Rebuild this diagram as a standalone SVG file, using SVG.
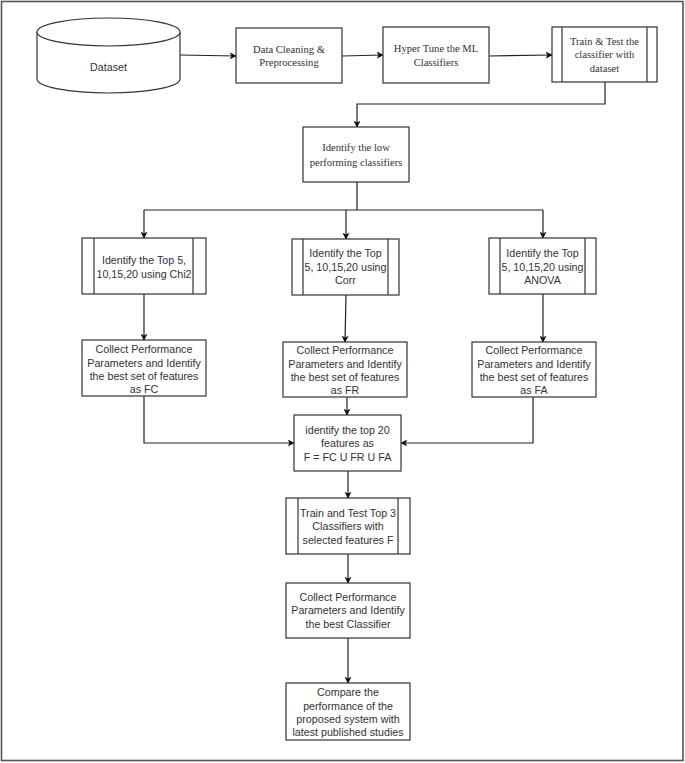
<svg xmlns="http://www.w3.org/2000/svg" width="685" height="763" viewBox="0 0 685 763">
<style>
.box{fill:#fff;stroke:#333;stroke-width:1.2}
.in{stroke:#333;stroke-width:1.2;fill:none}
.t{font-family:"Liberation Sans",Arial,sans-serif;font-size:10.7px;fill:#333;text-anchor:middle}
.s{font-family:"Liberation Serif","Times New Roman",serif;font-size:10.6px;fill:#333;text-anchor:middle}
.c{fill:none;stroke:#222;stroke-width:1.2}
</style>
<defs>
<marker id="ah" viewBox="0 0 10 10" refX="9" refY="5" markerWidth="7" markerHeight="7" markerUnits="userSpaceOnUse" orient="auto">
<path d="M0,0 L10,5 L0,10 L2.5,5 Z" fill="#111"/>
</marker>
</defs>
<rect x="0" y="0" width="685" height="763" fill="#fff"/>
<rect x="1.5" y="1.5" width="681.5" height="759" fill="none" stroke="#555" stroke-width="1.6"/>

<g id="connectors">
<path class="c" d="M180,55 L236,56" marker-end="url(#ah)"/>
<path class="c" d="M342,56 L383,55" marker-end="url(#ah)"/>
<path class="c" d="M489,56 L552,55" marker-end="url(#ah)"/>
<path class="c" d="M605,82 L605,104 L357,104 L357,127" marker-end="url(#ah)"/>
<path class="c" d="M357,182 L357,210"/>
<path class="c" d="M144,210 L543,210"/>
<path class="c" d="M144,210 L144,238" marker-end="url(#ah)"/>
<path class="c" d="M346,210 L346,239" marker-end="url(#ah)"/>
<path class="c" d="M543,210 L543,238" marker-end="url(#ah)"/>
<path class="c" d="M144,294 L144,340" marker-end="url(#ah)"/>
<path class="c" d="M346,295 L345,342" marker-end="url(#ah)"/>
<path class="c" d="M543,294 L543,342" marker-end="url(#ah)"/>
<path class="c" d="M144,396 L144,443 L294,443" marker-end="url(#ah)"/>
<path class="c" d="M347,397 L347,415" marker-end="url(#ah)"/>
<path class="c" d="M533,397 L533,443 L401,443" marker-end="url(#ah)"/>
<path class="c" d="M348,471 L348,498" marker-end="url(#ah)"/>
<path class="c" d="M348,554 L348,583" marker-end="url(#ah)"/>
<path class="c" d="M348,638 L348,683" marker-end="url(#ah)"/>
</g>

<g id="dataset">
<path class="box" d="M37,32 L37,79 A71.5,14 0 0 0 180,79 L180,32"/>
<ellipse class="box" cx="108.5" cy="32" rx="71.5" ry="14"/>
<text class="t" x="108.5" y="71">Dataset</text>
</g>

<g id="cleaning">
<rect class="box" x="236" y="28" width="106" height="55"/>
<text class="s" x="289" y="53">Data Cleaning &amp;</text>
<text class="s" x="289" y="66">Preprocessing</text>
</g>

<g id="hypertune">
<rect class="box" x="383" y="27" width="106" height="56"/>
<text class="s" x="436" y="52">Hyper Tune the ML</text>
<text class="s" x="436" y="66">Classifiers</text>
</g>

<g id="traintest">
<rect class="box" x="552" y="27" width="105" height="55"/>
<line class="in" x1="562" y1="27" x2="562" y2="82"/>
<line class="in" x1="647" y1="27" x2="647" y2="82"/>
<text class="s" x="604.5" y="45">Train &amp; Test the</text>
<text class="s" x="604.5" y="58">classifier with</text>
<text class="s" x="604.5" y="72">dataset</text>
</g>

<g id="lowperf">
<rect class="box" x="303" y="127" width="106" height="55"/>
<text class="s" x="356" y="151">Identify the low</text>
<text class="s" x="356" y="166">performing classifiers</text>
</g>

<g id="chi2">
<rect class="box" x="82" y="238" width="124" height="56"/>
<line class="in" x1="94" y1="238" x2="94" y2="294"/>
<line class="in" x1="193" y1="238" x2="193" y2="294"/>
<text class="t" x="144" y="264">Identify the Top 5,</text>
<text class="t" x="144" y="277.5">10,15,20 using Chi2</text>
</g>

<g id="corr">
<rect class="box" x="292" y="239" width="107" height="56"/>
<line class="in" x1="303" y1="239" x2="303" y2="295"/>
<line class="in" x1="388" y1="239" x2="388" y2="295"/>
<text class="t" x="345.5" y="257">Identify the Top</text>
<text class="t" x="345.5" y="270.5">5, 10,15,20 using</text>
<text class="t" x="345.5" y="284">Corr</text>
</g>

<g id="anova">
<rect class="box" x="489" y="238" width="107" height="56"/>
<line class="in" x1="500" y1="238" x2="500" y2="294"/>
<line class="in" x1="585" y1="238" x2="585" y2="294"/>
<text class="t" x="542.5" y="257">Identify the Top</text>
<text class="t" x="542.5" y="270.5">5, 10,15,20 using</text>
<text class="t" x="542.5" y="284">ANOVA</text>
</g>

<g id="collectFC">
<rect class="box" x="82" y="340" width="124" height="56"/>
<text class="t" x="144" y="353">Collect Performance</text>
<text class="t" x="144" y="366.5">Parameters and Identify</text>
<text class="t" x="144" y="380">the best set of features</text>
<text class="t" x="144" y="393">as FC</text>
</g>

<g id="collectFR">
<rect class="box" x="283" y="342" width="124" height="55"/>
<text class="t" x="345" y="354">Collect Performance</text>
<text class="t" x="345" y="367.5">Parameters and Identify</text>
<text class="t" x="345" y="381">the best set of features</text>
<text class="t" x="345" y="394">as FR</text>
</g>

<g id="collectFA">
<rect class="box" x="472" y="342" width="124" height="55"/>
<text class="t" x="534" y="354">Collect Performance</text>
<text class="t" x="534" y="367.5">Parameters and Identify</text>
<text class="t" x="534" y="381">the best set of features</text>
<text class="t" x="534" y="394">as FA</text>
</g>

<g id="top20">
<rect class="box" x="294" y="415" width="107" height="56"/>
<text class="t" x="347.5" y="434">identify the top 20</text>
<text class="t" x="347.5" y="447">features as</text>
<text class="t" x="347.5" y="460.5">F = FC U FR U FA</text>
</g>

<g id="trainTop3">
<rect class="box" x="286" y="498" width="124" height="56"/>
<line class="in" x1="298" y1="498" x2="298" y2="554"/>
<line class="in" x1="398" y1="498" x2="398" y2="554"/>
<text class="t" x="348" y="517">Train and Test Top 3</text>
<text class="t" x="348" y="530">Classifiers with</text>
<text class="t" x="348" y="543.5">selected features F</text>
</g>

<g id="bestClassifier">
<rect class="box" x="286" y="583" width="124" height="55"/>
<text class="t" x="348" y="601">Collect Performance</text>
<text class="t" x="348" y="614">Parameters and Identify</text>
<text class="t" x="348" y="627.5">the best Classifier</text>
</g>

<g id="compare">
<rect class="box" x="286" y="683" width="124" height="57"/>
<text class="t" x="348" y="696">Compare the</text>
<text class="t" x="348" y="709.5">performance of the</text>
<text class="t" x="348" y="722.5">proposed system with</text>
<text class="t" x="348" y="736">latest published studies</text>
</g>
</svg>
